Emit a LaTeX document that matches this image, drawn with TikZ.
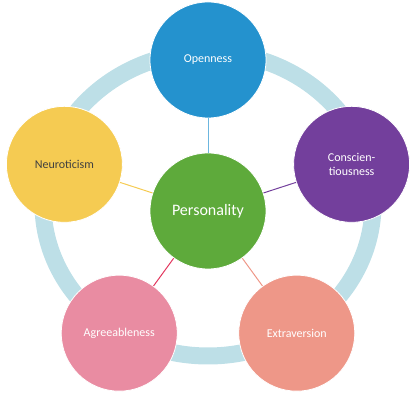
\documentclass[tikz,border=0pt]{standalone}
\usepackage{fontspec}
\setmainfont{Carlito}
\usetikzlibrary{calc}
\definecolor{ringc}{HTML}{BDDFE7}
\definecolor{openc}{HTML}{2492CE}
\definecolor{consc}{HTML}{733F9C}
\definecolor{extrc}{HTML}{EE9788}
\definecolor{agrec}{HTML}{E98CA2}
\definecolor{neurc}{HTML}{F5CB52}
\definecolor{persc}{HTML}{5EAA3B}
\definecolor{openl}{HTML}{6CB6DF}
\definecolor{agrel}{HTML}{E2375E}
\definecolor{darkt}{HTML}{404040}
\begin{document}
\begin{tikzpicture}[x=1pt,y=1pt,
  bubble/.style={circle,draw=white,line width=0.8pt,minimum size=116pt,inner sep=0pt,align=center,text=white,font=\fontsize{12}{14}\selectfont},
  link/.style={line width=1pt}]
\useasboundingbox (0,0) rectangle (416,401);
\coordinate (c) at (208,190);
\draw[ringc,line width=17pt] (208,197) ellipse[x radius=165,y radius=152];
\node[bubble,fill=persc,font=\fontsize{16}{18}\selectfont] (pers) at (c) {Personality};
\node[bubble,fill=openc] (open) at ($(c)+(90:151)$) {Openness};
\node[bubble,fill=consc] (cons) at ($(c)+(18:151)$) {Conscien-\\tiousness};
\node[bubble,fill=extrc] (extr) at ($(c)+(-54:151)$) {Extraversion};
\node[bubble,fill=agrec] (agre) at ($(c)+(-126:151)$) {Agreeableness};
\node[bubble,fill=neurc,text=darkt] (neur) at ($(c)+(162:151)$) {Neuroticism};
\draw[link,openl] (pers) -- (open);
\draw[link,consc] (pers) -- (cons);
\draw[link,extrc] (pers) -- (extr);
\draw[link,agrel] (pers) -- (agre);
\draw[link,neurc] (pers) -- (neur);
\end{tikzpicture}
\end{document}
